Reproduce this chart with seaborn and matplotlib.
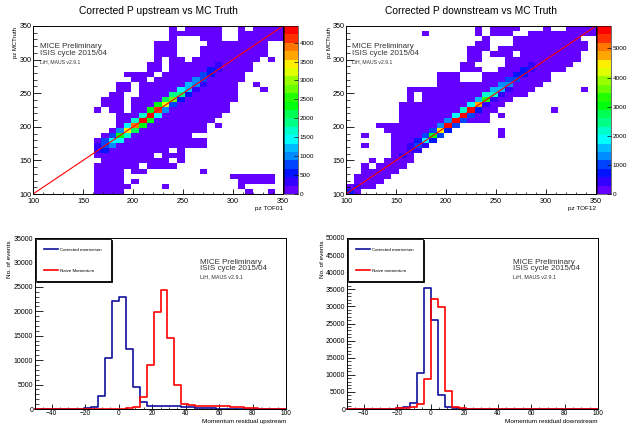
import colorsys
import numpy as np
import pandas as pd
import matplotlib
matplotlib.use("Agg")
import matplotlib.pyplot as plt
import seaborn as sns
from matplotlib.colors import ListedColormap
from matplotlib.ticker import MultipleLocator

# ---------------- 2D maps: 33 x 33 bins, pz 100 -> 350
nbin = 33
pz_lo, pz_hi = 100, 350
low_count = 80   # violet cells (first colour level)

# filled low-count cells, column spans per MCTruth row, top row (j=32) first
up_spans = [
    [(18, 18), (20, 24), (27, 27), (29, 32)],
    [(18, 24), (27, 32)],
    [(18, 18), (22, 24), (27, 32)],
    [(16, 18), (23, 30)],
    [(16, 18), (22, 30)],
    [(16, 18), (22, 30)],
    [(16, 16), (18, 19), (21, 29), (31, 31)],
    [(15, 16), (18, 28)],
    [(15, 16), (18, 28)],
    [(12, 15), (17, 27)],
    [(13, 14), (16, 27)],
    [(11, 12), (14, 26), (29, 29)],
    [(11, 12), (14, 26), (30, 30)],
    [(10, 11), (14, 26)],
    [(9, 11), (13, 26)],
    [(9, 11), (13, 25)],
    [(8, 8), (10, 11), (13, 25)],
    [(11, 24)],
    [(11, 23)],
    [(11, 22), (24, 24)],
    [(10, 22)],
    [(9, 20)],
    [(8, 22)],
    [(8, 22)],
    [(8, 17), (19, 19)],
    [(8, 15), (17, 19)],
    [(9, 17), (19, 19)],
    [(8, 13), (15, 18)],
    [(8, 11), (13, 14), (22, 22)],
    [(8, 11), (26, 31)],
    [(8, 11), (13, 13), (27, 31)],
    [(8, 12), (17, 17), (27, 27)],
    [(8, 11), (28, 28), (31, 31)],
]
# diagonal cells from column up_first: on the diagonal, one row above, one row below
up_first = 8
up_on = [400, 850, 1500, 2400, 3400, 3800, 4440, 4300, 4200, 3300, 2800, 1900, 1300, 1100, 800, 600, 300]
up_above = [300, 700, 700, 900, 1500, 1600, 1700, 2300, 2400, 2200, 1800, 1500, 1200, 1000, 700, 500, 250]
up_below = [200, 500, 900, 1400, 1700, 2000, 2300, 2400, 1400, 1000, 800, 600, 500, 400, 300, 200, 100]

dn_spans = [
    [(17, 17), (19, 22), (26, 26), (29, 32)],
    [(10, 10), (17, 17), (19, 21), (24, 32)],
    [(18, 18), (22, 30)],
    [(17, 18), (22, 31)],
    [(16, 18), (20, 31)],
    [(16, 17), (19, 21), (23, 30)],
    [(16, 17), (21, 30)],
    [(15, 16), (21, 29)],
    [(15, 17), (20, 28)],
    [(12, 14), (18, 26)],
    [(12, 14), (18, 26)],
    [(12, 25)],
    [(8, 24), (31, 31)],
    [(8, 8), (10, 23)],
    [(8, 8), (10, 21)],
    [(7, 20)],
    [(7, 19), (27, 27)],
    [(7, 18), (20, 20)],
    [(7, 18)],
    [(4, 14)],
    [(5, 13), (20, 20)],
    [(2, 2), (6, 12), (20, 20)],
    [(6, 11)],
    [(2, 2), (6, 10)],
    [(6, 9)],
    [(6, 8)],
    [(3, 3), (5, 8)],
    [(2, 2), (4, 7)],
    [(2, 6)],
    [(1, 5)],
    [(1, 4)],
    [(0, 3)],
    [(0, 1)],
]
dn_first = 7
dn_on = [300, 500, 1000, 2000, 3000, 4500, 5600, 5700, 5770, 5600, 4900, 3200, 2300, 1600, 1200, 1000, 800, 400]
dn_above = [200, 300, 700, 900, 1000, 1300, 1400, 2000, 2200, 2000, 1500, 2100, 1500, 1200, 1000, 800, 600, 300]
dn_below = [100, 100, 300, 500, 700, 900, 800, 900, 1000, 1000, 700, 500, 400, 300, 300, 200, 200, 100]
dn_extra = [(0, 0, 600), (1, 1, 350)]

# ---------------- residual histograms: 36 bins, -50 -> 100
res_lo, res_hi, res_nbin = -50, 100, 36
up_corrected = [0, 0, 0, 0, 0, 30, 60, 150, 450, 2700, 10500, 22200,
                22900, 12300, 4500, 1500, 700, 650, 600, 600, 550, 450, 350, 250,
                180, 120, 80, 50, 30, 20, 10, 0, 0, 0, 0, 0]
up_naive = [0, 0, 0, 0, 0, 0, 0, 0, 0, 0, 10, 20,
            60, 150, 500, 2500, 9000, 19800, 24300, 14500, 5000, 1000, 750, 700,
            700, 650, 600, 550, 450, 350, 250, 150, 80, 40, 20, 10]
dn_corrected = [0, 0, 0, 0, 20, 40, 100, 200, 450, 1900, 10500, 35500,
                26000, 4000, 500, 150, 60, 30, 0, 0, 0, 0, 0, 0,
                0, 0, 0, 0, 0, 0, 0, 0, 0, 0, 0, 0]
dn_naive = [0, 0, 0, 0, 0, 30, 80, 200, 300, 600, 1600, 8700,
            32300, 29900, 5400, 700, 150, 50, 0, 0, 0, 0, 0, 0,
            0, 0, 0, 0, 0, 0, 0, 0, 0, 0, 0, 0]

plt.rcParams['font.family'] = ['Liberation Sans', 'DejaVu Sans']
plt.rcParams['axes.linewidth'] = 0.7

# ROOT "pretty palette", 20 contour levels
pal = []
for k in range(20):
    idx = int((k + 0.99) * 50 / 20)
    hue = 280 - (idx + 1) * 280 / 50
    pal.append(colorsys.hls_to_rgb(hue / 360, 0.5, 1.0))
root_cmap = ListedColormap(pal)

W, H = 628, 425
fig = plt.figure(figsize=(W / 100, H / 100), dpi=100)


def fbox(x0, y0, x1, y1):
    return [x0 / W, 1 - y1 / H, (x1 - x0) / W, (y1 - y0) / H]


def build_map(spans, first, on, above, below, extra=()):
    g = np.zeros((nbin, nbin))
    for r, row in enumerate(spans):
        j = nbin - 1 - r
        for a, b in row:
            g[j, a:b + 1] = low_count
    for n in range(len(on)):
        i = first + n
        g[i, i] = on[n]
        if i + 1 < nbin:
            g[i + 1, i] = above[n]
        if i >= 1:
            g[i - 1, i] = below[n]
    for i, j, v in extra:
        g[j, i] = v
    bw = (pz_hi - pz_lo) / nbin
    cen = pz_lo + bw * (np.arange(nbin) + 0.5)
    jj, ii = np.nonzero(g)
    return pd.DataFrame({'x': cen[ii], 'y': cen[jj], 'w': g[jj, ii]})


def draw_map(box, cbox, df, title, xlabel, cticks, title_x, ylab_x, txt_x):
    ax = fig.add_axes(fbox(*box))
    cax = fig.add_axes(fbox(*cbox))
    sns.histplot(data=df, x='x', y='y', weights='w', bins=nbin,
                 binrange=((pz_lo, pz_hi), (pz_lo, pz_hi)),
                 cmap=root_cmap, cbar=True, cbar_ax=cax, ax=ax)
    ax.plot([pz_lo, pz_hi], [pz_lo, pz_hi], color='red', lw=0.8)
    ax.set_xlim(pz_lo, pz_hi)
    ax.set_ylim(pz_lo, pz_hi)
    ax.set_xlabel('')
    ax.set_ylabel('')
    ax.xaxis.set_major_locator(MultipleLocator(50))
    ax.xaxis.set_minor_locator(MultipleLocator(10))
    ax.yaxis.set_major_locator(MultipleLocator(50))
    ax.yaxis.set_minor_locator(MultipleLocator(10))
    ax.tick_params(axis='x', which='major', direction='in', length=3.6, width=0.6, labelsize=5.2, pad=2.8)
    ax.tick_params(axis='x', which='minor', direction='in', length=1.8, width=0.5)
    ax.tick_params(axis='y', which='major', direction='in', length=5.4, width=0.6, labelsize=5.2, pad=1)
    ax.tick_params(axis='y', which='minor', direction='in', length=2.7, width=0.5)
    cax.yaxis.set_ticks_position('right')
    cax.set_yticks(cticks)
    cax.tick_params(direction='in', length=3, width=0.5, labelsize=4.6, pad=1)
    for sp in cax.spines.values():
        sp.set_linewidth(0.4)
    fig.text(title_x / W, 1 - 11 / H, title, ha='center', va='center', fontsize=7.4)
    fig.text(ylab_x / W, 1 - 27 / H, 'pz MCTruth', rotation=90, ha='center', va='top', fontsize=4.3)
    fig.text(box[2] / W, 1 - 209 / H, xlabel, ha='right', va='center', fontsize=4.6)
    fig.text(txt_x / W, 1 - 46.7 / H, 'MICE Preliminary', va='center', fontsize=5.8, color='#333333')
    fig.text(txt_x / W, 1 - 53.5 / H, 'ISIS cycle 2015/04', va='center', fontsize=5.8, color='#333333')
    fig.text(txt_x / W, 1 - 61.5 / H, 'LiH, MAUS v2.9.1', va='center', fontsize=3.7, color='#333333')


def draw_res(box, corrected, naive, ymax, xlabel, labels, leg_x, ylab_x, txt_x):
    ax = fig.add_axes(fbox(*box))
    bw = (res_hi - res_lo) / res_nbin
    cen = res_lo + bw * (np.arange(res_nbin) + 0.5)
    df = pd.DataFrame({'res': cen, 'corr': corrected, 'naive': naive})
    sns.histplot(data=df, x='res', weights='corr', bins=res_nbin, binrange=(res_lo, res_hi),
                 element='step', fill=False, color='#10109a', linewidth=1.2, ax=ax, clip_on=False)
    sns.histplot(data=df, x='res', weights='naive', bins=res_nbin, binrange=(res_lo, res_hi),
                 element='step', fill=False, color='#ff0000', linewidth=1.2, ax=ax, clip_on=False)
    ax.set_xlim(res_lo, res_hi)
    ax.set_ylim(0, ymax)
    ax.set_xlabel('')
    ax.set_ylabel('')
    ax.xaxis.set_major_locator(MultipleLocator(20))
    ax.xaxis.set_minor_locator(MultipleLocator(5))
    ax.yaxis.set_major_locator(MultipleLocator(5000))
    ax.yaxis.set_minor_locator(MultipleLocator(1000))
    ax.tick_params(axis='x', which='major', direction='in', length=3.6, width=0.6, labelsize=4.8, pad=1.0)
    ax.tick_params(axis='x', which='minor', direction='in', length=1.8, width=0.5)
    ax.tick_params(axis='y', which='major', direction='in', length=5.4, width=0.6, labelsize=5.0, pad=1.2)
    ax.tick_params(axis='y', which='minor', direction='in', length=2.7, width=0.5)
    leg = ax.legend(handles=ax.lines[:2], labels=labels, loc='upper left',
                    bbox_to_anchor=(leg_x / W, 1 - 282 / H, 75 / W, 43 / H),
                    bbox_transform=fig.transFigure, mode='expand', borderaxespad=0,
                    fontsize=3.2, handlelength=3.0, handletextpad=0.4, labelspacing=3.9,
                    borderpad=1.9, fancybox=False, edgecolor='black', framealpha=1,
                    shadow={'ox': 0.6, 'oy': -0.6, 'color': 'black', 'alpha': 1.0})
    leg.get_frame().set_linewidth(0.6)
    fig.text(ylab_x / W, 1 - 240 / H, 'No. of events', rotation=90, ha='center', va='top', fontsize=4.6)
    fig.text(box[2] / W, 1 - 421.3 / H, xlabel, ha='right', va='center', fontsize=4.6)
    fig.text(txt_x / W, 1 - 262 / H, 'MICE Preliminary', va='center', fontsize=5.8, color='#333333')
    fig.text(txt_x / W, 1 - 268.7 / H, 'ISIS cycle 2015/04', va='center', fontsize=5.8, color='#333333')
    fig.text(txt_x / W, 1 - 277 / H, 'LiH, MAUS v2.9.1', va='center', fontsize=3.9, color='#333333')


up_map = build_map(up_spans, up_first, up_on, up_above, up_below)
dn_map = build_map(dn_spans, dn_first, dn_on, dn_above, dn_below, dn_extra)

draw_map((33, 26, 283, 194), (284, 26, 298, 194), up_map,
         'Corrected P upstream vs MC Truth', 'pz TOF01',
         [0, 500, 1000, 1500, 2000, 2500, 3000, 3500, 4000], 158, 16, 40)
draw_map((346, 26, 596, 194), (597, 26, 611, 194), dn_map,
         'Corrected P downstream vs MC Truth', 'pz TOF12',
         [0, 1000, 2000, 3000, 4000, 5000], 471, 329, 352)

draw_res((35, 238, 286, 409), up_corrected, up_naive, 35000,
         'Momentum residual upstream', ['Corrected momentum', 'Naive Momentum'], 36, 10, 200)
draw_res((347, 238, 598, 409), dn_corrected, dn_naive, 50000,
         'Momentum residual downstream', ['Corrected momentum', 'Naive momentum'], 348, 322, 513)

fig.savefig('out.png', dpi=100, facecolor='white')
